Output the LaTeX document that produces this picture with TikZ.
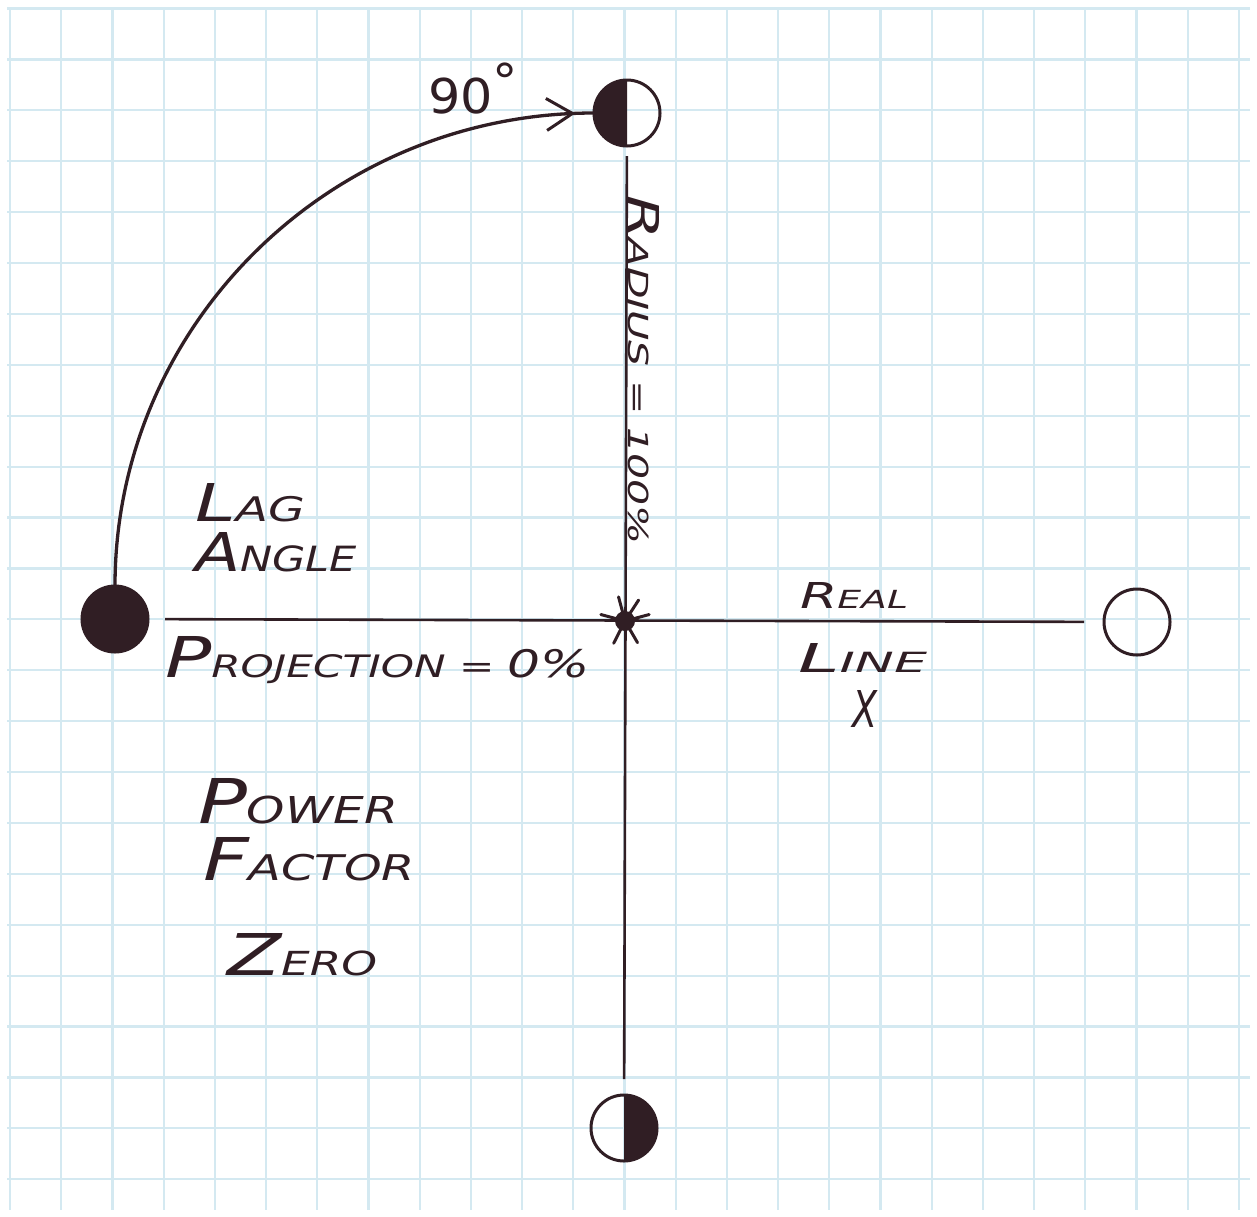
\documentclass[tikz,border=0pt]{standalone}
\usepackage{fontspec}
\setmainfont{DejaVu Sans}
\usepackage{graphicx}
\usetikzlibrary{arrows.meta,decorations.markings}
\definecolor{ink}{RGB}{48,30,36}
\definecolor{gridblue}{RGB}{212,233,241}
\newcommand\hwB[1]{{\fontsize{20}{24}\selectfont #1}}
\newcommand\hwS[2][12]{{\fontsize{#1}{14}\selectfont #2}}
\newcommand\hwfit[3]{\resizebox{#1}{#2}{#3}}
\tikzset{
  gridline/.style={draw=gridblue, line width=2.2pt},
  dot/.style={circle, draw=ink, line width=3pt, minimum size=66pt, inner sep=0pt, outer sep=0pt},
  axis/.style={draw=ink, line width=2.6pt},
  hw/.style={inner sep=0pt, outer sep=0pt, anchor=base west, text=ink, font=\itshape},
}
\begin{document}
\begin{tikzpicture}[x=1pt,y=-1pt]
\useasboundingbox (0,0) rectangle (1257,1216);
\fill[white] (0,0) rectangle (1257,1216);
% grid paper
\begin{scope}
\clip (7,7) rectangle (1250,1210);
\foreach \k in {0,...,24} \draw[gridline] ({10+51.2*\k},7) -- ({10+51.2*\k},1210);
\foreach \k in {0,...,23} \draw[gridline] (7,{8.5+50.9*\k}) -- (1250,{8.5+50.9*\k});
\end{scope}
% points
\node[dot, fill=ink] (lag) at (115,619) {};
\node[dot] (real) at (1137,622) {};
\node[dot] (up) at (627,113) {};
\node[dot] (down) at (624,1128) {};
\coordinate (o) at (625,621);
\fill[ink] (up.north) arc[start angle=90, end angle=270, radius=33pt] -- cycle;
\fill[ink] (down.north) arc[start angle=90, end angle=-90, radius=33pt] -- cycle;
% axes
\draw[axis, shorten <=17pt, shorten >=20pt] (lag) -- (real);
\draw[axis, shorten <=10pt, shorten >=16pt] (up) -- (down);
% origin star
\foreach \a in {15,57,105,165,243,300} \draw[ink, line width=3pt, line cap=round] (o) -- ++(\a:25pt);
\fill[ink] (o) circle[radius=10pt];
% 90 degree arc
\draw[ink, line width=3.3pt, postaction={decorate},
  decoration={markings, mark=at position 0.975 with {\arrow{Straight Barb[length=26pt,width=32pt,line width=3pt]}}}]
  (lag.north) .. controls +(0,-260) and +(-265,0) .. (up.west);
% labels
\node[hw] (degtxt) at (428,113) {\hwfit{90pt}{50pt}{\upshape\hwB{90}\raisebox{6pt}{\fontsize{20}{24}\selectfont °}}};
\node[hw, rotate=-90] (radtxt) at (628,195) {\hwfit{350pt}{31pt}{\hwB{R}\hwS[13]{ADIUS = 100\%}}};
\node[hw] (lagtxt) at (195,521) {\hwfit{110pt}{38pt}{\hwB{L}\hwS[13]{AG}}};
\node[hw] (angtxt) at (195,571) {\hwfit{162pt}{39pt}{\hwB{A}\hwS[13]{NGLE}}};
\node[hw] (projtxt) at (165,677) {\hwfit{425pt}{41pt}{\hwB{P}\hwS[11]{ROJECTION = }{\fontsize{13.5}{15}\selectfont 0\%}}};
\node[hw] (realtxt) at (800,608) {\hwfit{108pt}{26pt}{\hwB{R}\hwS[14]{EAL}}};
\node[hw] (linetxt) at (798,672) {\hwfit{129pt}{29pt}{\hwB{L}\hwS[14]{INE}}};
\node[hw] (xtxt) at (852,727) {\hwfit{25pt}{37pt}{X}};
\node[hw] (powtxt) at (198,823) {\hwfit{200pt}{45pt}{\hwB{P}\hwS[12]{OWER}}};
\node[hw] (factxt) at (203,880) {\hwfit{212pt}{43pt}{\hwB{F}\hwS[12]{ACTOR}}};
\node[hw] (zerotxt) at (227,975) {\hwfit{150pt}{42pt}{\hwB{Z}\hwS[11.5]{ERO}}};
\end{tikzpicture}
\end{document}
